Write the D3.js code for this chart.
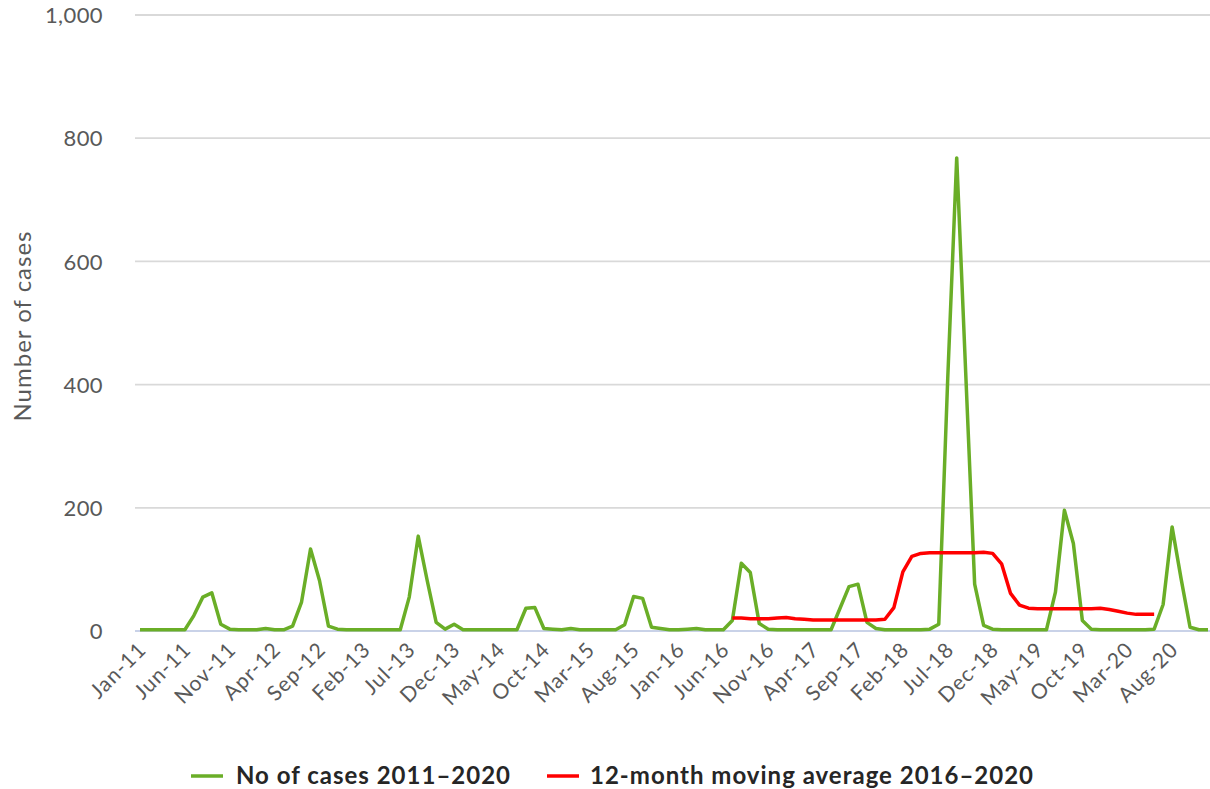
<!DOCTYPE html>
<html>
<head>
<meta charset="utf-8">
<script src="https://cdn.jsdelivr.net/npm/d3@7"></script>
<style>
  html, body { margin: 0; padding: 0; background: #ffffff; }
  svg { display: block; font-family: Lato, "Open Sans", sans-serif; }
</style>
</head>
<body>
<svg id="chart" width="1210" height="789"></svg>
<script>
// ---- Data ----
const monthNames = ["Jan","Feb","Mar","Apr","May","Jun","Jul","Aug","Sep","Oct","Nov","Dec"];
const years = [11,12,13,14,15,16,17,18,19,20];
const categories = [];
years.forEach(y => monthNames.forEach(m => categories.push(m + "-" + y)));

// Monthly number of cases, Jan-11 .. Dec-20
const cases = [
  2, 2, 2, 2, 2, 2, 25, 55, 62, 11, 3, 2,          // 2011
  2, 2, 4, 2, 2, 8, 47, 133, 82, 8, 3, 2,          // 2012
  2, 2, 2, 2, 2, 2, 55, 154, 82, 14, 3, 11,        // 2013
  2, 2, 2, 2, 2, 2, 2, 37, 38, 4, 3, 2,            // 2014
  4, 2, 2, 2, 2, 2, 10, 56, 53, 6, 4, 2,           // 2015
  2, 3, 4, 2, 2, 2, 17, 110, 95, 12, 3, 2,         // 2016
  2, 2, 2, 2, 2, 2, 37, 72, 76, 14, 4, 2,          // 2017
  2, 2, 2, 2, 3, 11, 410, 768, 420, 76, 9, 3,      // 2018
  2, 2, 2, 2, 2, 2, 63, 196, 142, 17, 3, 2,        // 2019
  2, 2, 2, 2, 2, 3, 43, 169, 85, 6, 2, 2           // 2020
];

// 12-month moving average 2016-2020, starting Jul-16
const movingAvgStart = "Jul-16";
const movingAvg = [
  21, 21, 20, 20, 20, 21,                          // Jul-16 .. Dec-16
  22, 20, 19, 18, 18, 18, 18, 18, 18, 18, 18, 19,  // 2017
  38, 96, 121, 126, 127, 127, 127, 127, 127, 127, 128, 126, // 2018
  109, 61, 42, 37, 36, 36, 36, 36, 36, 36, 36, 37, // 2019
  35, 32, 29, 27, 27, 27                           // Jan-20 .. Jun-20
];

const yTicks = [0, 200, 400, 600, 800, 1000];
const seriesNames = ["No of cases 2011\u20132020", "12-month moving average 2016\u20132020"];
const seriesColors = ["#6aae27", "#ff0000"];

// ---- Layout ----
const svg = d3.select("#chart");
const plotLeft = 135, plotRight = 1210, plotTop = 15, plotBottom = 631;

const x = d3.scalePoint().domain(categories).range([140, 1208]);
const y = d3.scaleLinear().domain([0, 1000]).range([plotBottom, plotTop]);

// Gridlines
svg.append("g")
  .selectAll("line")
  .data(yTicks.filter(d => d !== 0))
  .join("line")
  .attr("x1", plotLeft).attr("x2", plotRight)
  .attr("y1", d => y(d)).attr("y2", d => y(d))
  .attr("stroke", "#d9d9d9").attr("stroke-width", 1.8);

// Y axis labels
const yAxis = d3.axisLeft(y).tickValues(yTicks).tickFormat(d3.format(",")).tickSize(0).tickPadding(0);
const yg = svg.append("g").attr("transform", `translate(103,0)`).call(yAxis);
yg.select(".domain").remove();
yg.selectAll("text")
  .attr("fill", "#595959")
  .style("font-size", "22px")
  .style("letter-spacing", "0.4px")
  .style("font-family", "Lato, sans-serif")
  .attr("dy", "0.35em");

// Zero baseline
svg.append("line")
  .attr("x1", plotLeft).attr("x2", plotRight)
  .attr("y1", y(0)).attr("y2", y(0))
  .attr("stroke", "#c9d2e8").attr("stroke-width", 2);

// X axis labels (every 5th month)
const xTickVals = categories.filter((d, i) => i % 5 === 0);
const xAxis = d3.axisBottom(x).tickValues(xTickVals).tickSize(0).tickPadding(0);
const xg = svg.append("g").attr("transform", `translate(0,${plotBottom})`).call(xAxis);
xg.select(".domain").remove();
xg.selectAll("text")
  .attr("fill", "#595959")
  .style("font-size", "21px")
  .style("letter-spacing", "1px")
  .style("font-family", "Lato, sans-serif")
  .attr("text-anchor", "end")
  .attr("dy", null)
  .attr("y", null)
  .attr("transform", "translate(7,20) rotate(-45)");

// Lines
const line = d3.line().x(d => x(d.cat)).y(d => y(d.v));

const casesData = categories.map((c, i) => ({cat: c, v: cases[i]}));
const startIdx = categories.indexOf(movingAvgStart);
const maData = movingAvg.map((v, i) => ({cat: categories[startIdx + i], v}));

svg.append("path")
  .datum(casesData)
  .attr("d", line)
  .attr("fill", "none")
  .attr("stroke", seriesColors[0])
  .attr("stroke-width", 3.5)
  .attr("stroke-linejoin", "round");

svg.append("path")
  .datum(maData)
  .attr("d", line)
  .attr("fill", "none")
  .attr("stroke", seriesColors[1])
  .attr("stroke-width", 3.5)
  .attr("stroke-linejoin", "round");

// Y axis title
svg.append("text")
  .attr("transform", "translate(31,326) rotate(-90)")
  .attr("text-anchor", "middle")
  .attr("fill", "#595959")
  .style("font-size", "24px")
  .style("letter-spacing", "1px")
  .style("font-family", "Lato, sans-serif")
  .text("Number of cases");

// Legend
const legendItems = [
  {name: seriesNames[0], color: seriesColors[0], x: 191, tx: 236},
  {name: seriesNames[1], color: seriesColors[1], x: 547, tx: 590}
];
const lg = svg.append("g");
legendItems.forEach(it => {
  lg.append("line")
    .attr("x1", it.x).attr("x2", it.x + 32)
    .attr("y1", 776).attr("y2", 776)
    .attr("stroke", it.color).attr("stroke-width", 3.5);
  lg.append("text")
    .attr("x", it.tx).attr("y", 776)
    .attr("dy", "0.35em")
    .attr("fill", "#262626")
    .style("font-size", "24px")
    .style("letter-spacing", "1px")
    .style("font-weight", "bold")
    .style("font-family", "Lato, sans-serif")
    .text(it.name);
});
</script>
</body>
</html>
